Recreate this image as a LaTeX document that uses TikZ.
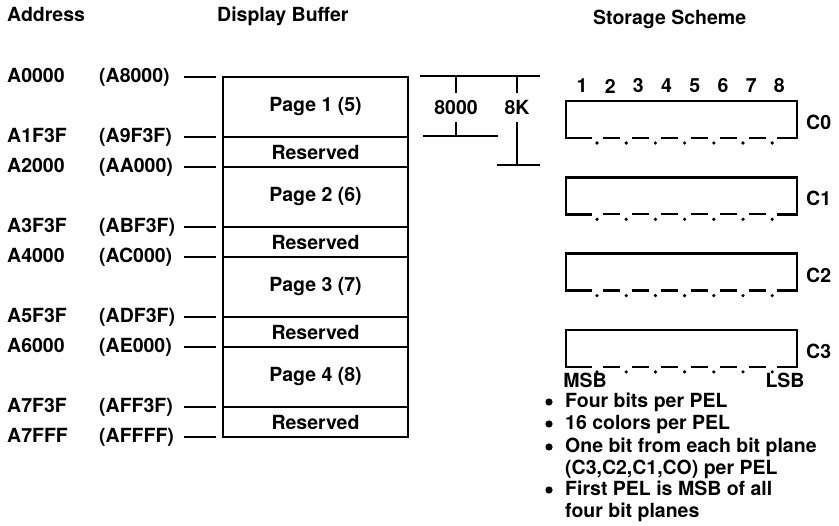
\documentclass[tikz,border=0pt]{standalone}
\usepackage{fontspec}
\setmainfont{TeX Gyre Heros}
\usetikzlibrary{positioning}

\tikzset{
  lbl/.style={font=\bfseries\fontsize{19.5}{22}\selectfont, inner sep=0pt},
  page/.style={lbl, draw, line width=2.7pt, minimum width=185pt, minimum height=60pt, outer sep=0pt},
  resv/.style={page, minimum height=30pt},
  tick/.style={line width=1.6pt},
  plane/.style={line width=2.7pt},
  planebox/.style={minimum width=231pt, minimum height=37pt, inner sep=0pt, outer sep=0pt},
}

\begin{document}
\begin{tikzpicture}[x=1pt,y=-1pt]
\useasboundingbox (0,0) rectangle (839,526);

% headings
\node[lbl, anchor=base west] (haddr) at (7,22) {Address};
\node[lbl, anchor=base west] (hbuf) at (217,22) {Display Buffer};
\node[lbl, anchor=base west] (hstore) at (593,25) {Storage Scheme};

% display buffer
\foreach \n/\m [count=\i from 0] in {1/5,2/6,3/7,4/8}{
  \node[page] (p\n) at (315.5,{107+90*\i}) {Page \n\ (\m)};
  \node[resv, below=0pt of p\n] (r\n) {Reserved};
}

% addresses
\foreach \a/\b/\y in {A0000/A8000/77, A1F3F/A9F3F/137, A2000/AA000/167,
                      A3F3F/ABF3F/227, A4000/AC000/257, A5F3F/ADF3F/317,
                      A6000/AE000/347, A7F3F/AFF3F/407, A7FFF/AFFFF/437}{
  \node[lbl, anchor=base west] (ad\a) at (7,{\y+6}) {\a};
  \node[lbl, anchor=base west] (ax\a) at (99,{\y+6}) {(\b)};
  \coordinate (t\a) at (184,\y);
  \draw[tick] (t\a) -- ++(32,0);
}

% size brackets
\coordinate (btl) at (420,76);
\coordinate (btr) at (540,76);
\coordinate (b8000l) at (423,136);
\coordinate (b8000r) at (498,136);
\coordinate (b8kl) at (497,165);
\coordinate (b8kr) at (540,165);
\node[lbl, inner ysep=7pt] (d8000) at (456,107.5) {8000};
\node[lbl, inner ysep=7pt] (d8k) at (517,107.5) {8K};
\draw[tick] (btl) -- (btr);
\draw[tick] (b8000l) -- (b8000r);
\draw[tick] (b8kl) -- (b8kr);
\draw[tick] (d8000.north) -- (d8000.north |- btl);
\draw[tick] (d8000.south) -- (d8000.south |- b8000l);
\draw[tick] (d8k.north) -- (d8k.north |- btl);
\draw[tick] (d8k.south) -- (d8k.south |- b8kl);

% storage scheme
\foreach \b in {1,...,8}
  \node[lbl] (bit\b) at ({582+28.2*(\b-1)},86) {\b};

\foreach \c in {0,...,3}{
  \node[planebox] (pl\c) at (681.5,{119.5+76.3*\c}) {};
  \draw[plane] ([xshift=26pt]pl\c.south west) -- (pl\c.south west) -- (pl\c.north west)
    -- (pl\c.north east) -- (pl\c.south east) -- ([xshift=-20pt]pl\c.south east);
  \foreach \k in {0,...,6}
    \fill ([xshift={31+29.2*\k}, yshift=-5pt]pl\c.south west) circle (1.8pt);
  \foreach \k in {0,...,5}
    \draw[plane, line width=2.2pt] ([xshift={37+29.2*\k}]pl\c.south west) -- ++(17,0);
  \node[lbl, anchor=west] (c\c) at ([xshift=9pt, yshift=-3pt]pl\c.east) {C\c};
}

\node[lbl] (msb) at (585,380) {MSB};
\node[lbl] (lsb) at (785,380) {LSB};

% notes
\foreach \txt/\yb/\bul [count=\i] in {Four bits per PEL/408/1, 16 colors per PEL/430/1,
    One bit from each bit plane/453/1, {(C3,C2,C1,CO) per PEL}/475/0,
    First PEL is MSB of all/496/1, four bit planes/518/0}{
  \node[lbl, anchor=base west] (note\i) at (565,\yb) {\txt};
  \ifnum\bul=1 \fill ([xshift=-16pt, yshift=6pt]note\i.base west) circle (3.6pt); \fi
}
\end{tikzpicture}
\end{document}
